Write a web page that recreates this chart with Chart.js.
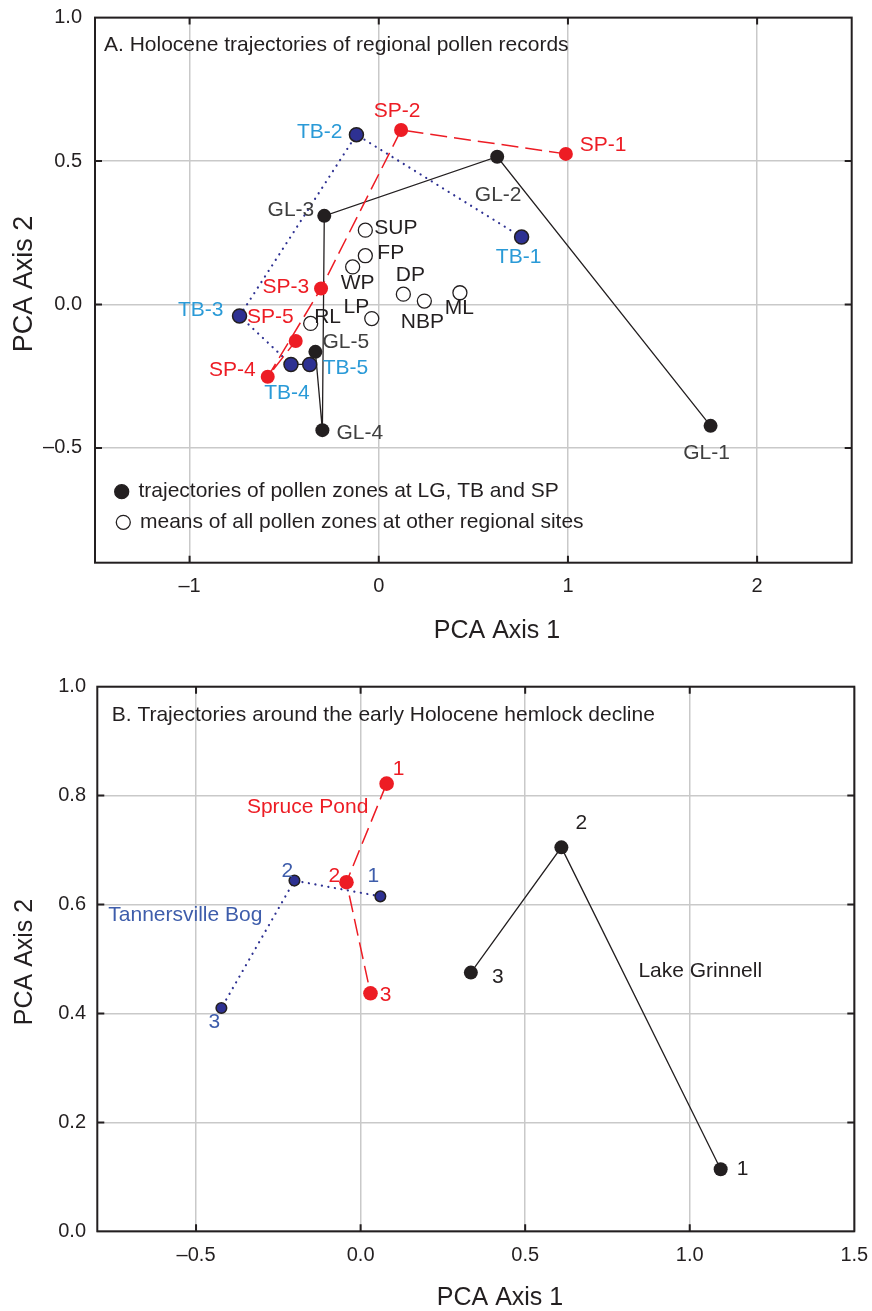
<!DOCTYPE html>
<html>
<head>
<meta charset="utf-8">
<script src="https://cdn.jsdelivr.net/npm/chart.js@4.4.1/dist/chart.umd.min.js"></script>
<style>
  html, body { margin: 0; padding: 0; background: #ffffff; }
  #wrap { position: relative; width: 872px; height: 1311px; }
  canvas { position: absolute; left: 0; }
  #chartA { top: 0; }
  #chartB { top: 655px; }
</style>
</head>
<body>
<div id="wrap">
  <canvas id="chartA" width="872" height="655"></canvas>
  <canvas id="chartB" width="872" height="656"></canvas>
</div>
<script>
// ---------- Panel A: Holocene trajectories of regional pollen records ----------
const glZones = ['GL-1', 'GL-2', 'GL-3', 'GL-4', 'GL-5'];
const glAxis1 = [1.754, 0.626, -0.288, -0.298, -0.335];
const glAxis2 = [-0.423, 0.515, 0.309, -0.438, -0.165];

const tbZones = ['TB-1', 'TB-2', 'TB-3', 'TB-4', 'TB-5'];
const tbAxis1 = [0.755, -0.118, -0.736, -0.464, -0.365];
const tbAxis2 = [0.235, 0.592, -0.040, -0.209, -0.209];

const spZones = ['SP-1', 'SP-2', 'SP-3', 'SP-4', 'SP-5'];
const spAxis1 = [0.989, 0.118, -0.305, -0.587, -0.439];
const spAxis2 = [0.525, 0.608, 0.056, -0.252, -0.127];

const siteNames = ['SUP', 'FP', 'WP', 'DP', 'NBP', 'ML', 'LP', 'RL'];
const siteAxis1 = [-0.071, -0.071, -0.138, 0.130, 0.241, 0.429, -0.037, -0.360];
const siteAxis2 = [0.259, 0.170, 0.131, 0.036, 0.012, 0.041, -0.049, -0.066];

const ticksAx = [-1, 0, 1, 2];
const ticksAy = [-0.5, 0, 0.5, 1.0];

// ---------- Panel B: around the early Holocene hemlock decline ----------
const declineZones = ['1', '2', '3'];
const spBAxis1 = [0.079, -0.043, 0.030];
const spBAxis2 = [0.822, 0.641, 0.437];
const tbBAxis1 = [0.060, -0.201, -0.423];
const tbBAxis2 = [0.615, 0.644, 0.410];
const glBAxis1 = [1.094, 0.610, 0.335];
const glBAxis2 = [0.114, 0.705, 0.475];

const ticksBx = [-0.5, 0, 0.5, 1.0, 1.5];
const ticksBy = [0, 0.2, 0.4, 0.6, 0.8, 1.0];

// ---------- styling ----------
const FAMILY = '"Liberation Sans", Arial, Helvetica, sans-serif';
const INK = '#231f20';
const RED = '#ed1c24';
const NAVY = '#2e3192';
const SKY = '#2a9ad7';
const SLATE = '#3e5dab';
const GREY_TEXT = '#3f3f3f';
const GRID = '#c9c9c9';

// label placement around markers: [dx, dy, align]
const placeGL = [[-4, 27, 'center'], [1, 38, 'center'], [-10, -6, 'right'], [14, 3, 'left'], [7, -10, 'left']];
const placeTB = [[-3, 20, 'center'], [-14, -2, 'right'], [-16, -6, 'right'], [-4, 29, 'center'], [13, 4, 'left']];
const placeSP = [[14, -9, 'left'], [-4, -19, 'center'], [-12, -1, 'right'], [-12, -7, 'right'], [-2, -24, 'right']];
const placeSites = [[9, -1.5, 'left'], [12, -2.5, 'left'], [5, 16, 'center'], [7, -18.5, 'center'],
                    [-2, 21, 'center'], [-0.5, 15, 'center'], [-2.5, -11.5, 'right'], [3.5, -6.5, 'left']];
const placeSPB = [[12, -14, 'center'], [-12, -6, 'center'], [15, 2, 'center']];
const placeTBB = [[-7, -20, 'center'], [-7, -9, 'center'], [-7, 14, 'center']];
const placeGLB = [[22, 0, 'center'], [20, -24, 'center'], [27, 5, 'center']];

const toPoints = (xs, ys) => xs.map((x, i) => ({ x: x, y: ys[i] }));
const fmtSigned = (v, d) => (v < 0 ? '\u2013' : '') + Math.abs(v).toFixed(d);

// text next to each marker
const pointTextPlugin = {
  id: 'pointText',
  afterDatasetsDraw(chart) {
    const ctx = chart.ctx;
    chart.data.datasets.forEach((ds, i) => {
      if (!ds.pointText) return;
      const meta = chart.getDatasetMeta(i);
      ctx.save();
      ctx.font = ds.pointTextFont || ('21px ' + FAMILY);
      ctx.fillStyle = ds.pointTextColor || INK;
      ctx.textBaseline = 'middle';
      meta.data.forEach((el, j) => {
        const p = ds.pointTextPlace[j];
        ctx.textAlign = p[2];
        ctx.fillText(ds.pointText[j], el.x + p[0], el.y + p[1]);
      });
      ctx.restore();
    });
  }
};

// plot frame with inward tick marks on all four sides
const framePlugin = {
  id: 'frame',
  afterDraw(chart) {
    const { ctx, chartArea: a, scales } = chart;
    const len = 7;
    ctx.save();
    ctx.strokeStyle = INK;
    ctx.lineWidth = 2;
    ctx.strokeRect(a.left, a.top, a.right - a.left, a.bottom - a.top);
    ctx.beginPath();
    scales.x.ticks.forEach(t => {
      const px = scales.x.getPixelForValue(t.value);
      if (px <= a.left + 1 || px >= a.right - 1) return;
      ctx.moveTo(px, a.bottom); ctx.lineTo(px, a.bottom - len);
      ctx.moveTo(px, a.top); ctx.lineTo(px, a.top + len);
    });
    scales.y.ticks.forEach(t => {
      const py = scales.y.getPixelForValue(t.value);
      if (py <= a.top + 1 || py >= a.bottom - 1) return;
      ctx.moveTo(a.left, py); ctx.lineTo(a.left + len, py);
      ctx.moveTo(a.right, py); ctx.lineTo(a.right - len, py);
    });
    ctx.stroke();
    ctx.restore();
  }
};

// panel titles, axis titles, legends and series names
const notesPlugin = {
  id: 'notes',
  afterDraw(chart, args, opts) {
    const ctx = chart.ctx;
    const { x: sx, y: sy } = chart.scales;
    (opts.items || []).forEach(it => {
      ctx.save();
      let px = it.x, py = it.y;
      if (it.data) { px = sx.getPixelForValue(it.x); py = sy.getPixelForValue(it.y); }
      if (it.marker) {
        ctx.beginPath();
        ctx.arc(px, py, it.r, 0, Math.PI * 2);
        ctx.fillStyle = it.fill;
        ctx.fill();
        ctx.lineWidth = 1.3;
        ctx.strokeStyle = INK;
        ctx.stroke();
        ctx.restore();
        return;
      }
      ctx.font = it.font;
      ctx.fillStyle = it.color || INK;
      ctx.textAlign = it.align || 'left';
      ctx.textBaseline = 'middle';
      ctx.translate(px, py);
      if (it.rotate) ctx.rotate(it.rotate);
      ctx.fillText(it.text, 0, 0);
      ctx.restore();
    });
  }
};

function axisOptions(min, max, tickValues, digits, pad, fixedSize, horizontal) {
  return {
    type: 'linear',
    min: min,
    max: max,
    afterBuildTicks(scale) { scale.ticks = tickValues.map(v => ({ value: v })); },
    afterFit(scale) {
      if (horizontal) { scale.height = fixedSize; scale.paddingLeft = 0; scale.paddingRight = 0; }
      else { scale.width = fixedSize; scale.paddingTop = 0; scale.paddingBottom = 0; }
    },
    grid: { color: GRID, lineWidth: 1.5, drawTicks: false },
    border: { display: false },
    ticks: {
      autoSkip: false,
      maxRotation: 0,
      padding: pad,
      color: INK,
      font: { family: FAMILY, size: 20 },
      callback: v => fmtSigned(v, digits)
    }
  };
}

Chart.defaults.animation = false;

// ---------- Panel A ----------
new Chart(document.getElementById('chartA'), {
  type: 'scatter',
  data: {
    datasets: [
      {
        label: 'Spruce Pond',
        data: toPoints(spAxis1, spAxis2),
        showLine: true,
        borderColor: RED,
        borderWidth: 1.5,
        borderDash: [17, 7],
        pointRadius: 7,
        pointBackgroundColor: RED,
        pointBorderColor: RED,
        pointBorderWidth: 0,
        pointText: spZones, pointTextPlace: placeSP, pointTextColor: RED
      },
      {
        label: 'Tannersville Bog',
        data: toPoints(tbAxis1, tbAxis2),
        showLine: true,
        borderColor: NAVY,
        borderWidth: 2.2,
        borderCapStyle: 'round',
        borderDash: [0.1, 6.5],
        segment: {
          borderColor: c => (c.p0DataIndex === 3 ? INK : undefined),
          borderDash: c => (c.p0DataIndex === 3 ? [] : undefined),
          borderWidth: c => (c.p0DataIndex === 3 ? 1.3 : undefined)
        },
        pointRadius: 7,
        pointBackgroundColor: NAVY,
        pointBorderColor: INK,
        pointBorderWidth: 1.5,
        pointText: tbZones, pointTextPlace: placeTB, pointTextColor: SKY
      },
      {
        label: 'Lake Grinnell',
        data: toPoints(glAxis1, glAxis2),
        showLine: true,
        borderColor: INK,
        borderWidth: 1.3,
        pointRadius: 7,
        pointBackgroundColor: INK,
        pointBorderColor: INK,
        pointBorderWidth: 0,
        pointText: glZones, pointTextPlace: placeGL, pointTextColor: GREY_TEXT
      },
      {
        label: 'Other regional sites',
        data: toPoints(siteAxis1, siteAxis2),
        showLine: false,
        pointRadius: 7,
        pointBackgroundColor: '#ffffff',
        pointBorderColor: INK,
        pointBorderWidth: 1.3,
        pointText: siteNames, pointTextPlace: placeSites, pointTextColor: INK
      }
    ]
  },
  options: {
    responsive: false,
    animation: false,
    layout: { padding: { top: 17.6, right: 20.3, left: 0, bottom: 0 } },
    scales: {
      x: axisOptions(-1.5, 2.5, ticksAx, 0, 11.5, 92.3, true),
      y: axisOptions(-0.9, 1.0, ticksAy, 1, 13, 95, false)
    },
    plugins: {
      legend: { display: false },
      tooltip: { enabled: false },
      notes: {
        items: [
          { text: 'A. Holocene trajectories of regional pollen records', x: 104, y: 45, font: '21px ' + FAMILY },
          { marker: true, x: 121.7, y: 491.7, r: 7, fill: INK },
          { text: 'trajectories of pollen zones at LG, TB and SP', x: 138.5, y: 491.7, font: '21px ' + FAMILY },
          { marker: true, x: 123.3, y: 522.3, r: 7, fill: '#ffffff' },
          { text: 'means of all pollen zones at other regional sites', x: 140, y: 522.3, font: '21px ' + FAMILY },
          { text: 'PCA Axis 1', x: 497, y: 631, font: '25px ' + FAMILY, align: 'center' },
          { text: 'PCA Axis 2', x: 25, y: 284, font: '27px ' + FAMILY, align: 'center', rotate: -Math.PI / 2 }
        ]
      }
    }
  },
  plugins: [pointTextPlugin, framePlugin, notesPlugin]
});

// ---------- Panel B ----------
new Chart(document.getElementById('chartB'), {
  type: 'scatter',
  data: {
    datasets: [
      {
        label: 'Spruce Pond',
        data: toPoints(spBAxis1, spBAxis2),
        showLine: true,
        borderColor: RED,
        borderWidth: 1.5,
        borderDash: [17, 7],
        pointRadius: 7.3,
        pointBackgroundColor: RED,
        pointBorderColor: RED,
        pointBorderWidth: 0,
        pointText: declineZones, pointTextPlace: placeSPB, pointTextColor: RED
      },
      {
        label: 'Tannersville Bog',
        data: toPoints(tbBAxis1, tbBAxis2),
        showLine: true,
        borderColor: NAVY,
        borderWidth: 2.2,
        borderCapStyle: 'round',
        borderDash: [0.1, 6.5],
        pointRadius: 5.3,
        pointBackgroundColor: NAVY,
        pointBorderColor: INK,
        pointBorderWidth: 1.5,
        pointText: declineZones, pointTextPlace: placeTBB, pointTextColor: SLATE
      },
      {
        label: 'Lake Grinnell',
        data: toPoints(glBAxis1, glBAxis2),
        showLine: true,
        borderColor: INK,
        borderWidth: 1.3,
        pointRadius: 7,
        pointBackgroundColor: INK,
        pointBorderColor: INK,
        pointBorderWidth: 0,
        pointText: declineZones, pointTextPlace: placeGLB, pointTextColor: INK
      }
    ]
  },
  options: {
    responsive: false,
    animation: false,
    layout: { padding: { top: 31.7, right: 17.7, left: 0, bottom: 0 } },
    scales: {
      x: axisOptions(-0.8, 1.5, ticksBx, 1, 11.7, 79.7, true),
      y: axisOptions(0, 1.0, ticksBy, 1, 11.3, 97.3, false)
    },
    plugins: {
      legend: { display: false },
      tooltip: { enabled: false },
      notes: {
        items: [
          { text: 'B. Trajectories around the early Holocene hemlock decline', x: 111.7, y: 60, font: '21px ' + FAMILY },
          { text: 'Spruce Pond', data: true, x: -0.161, y: 0.779, font: '21px ' + FAMILY, color: RED, align: 'center' },
          { text: 'Tannersville Bog', data: true, x: -0.5325, y: 0.581, font: '21px ' + FAMILY, color: SLATE, align: 'center' },
          { text: 'Lake Grinnell', data: true, x: 1.032, y: 0.4785, font: '21px ' + FAMILY, color: INK, align: 'center' },
          { text: 'PCA Axis 1', x: 500, y: 643, font: '25px ' + FAMILY, align: 'center' },
          { text: 'PCA Axis 2', x: 25, y: 307, font: '25px ' + FAMILY, align: 'center', rotate: -Math.PI / 2 }
        ]
      }
    }
  },
  plugins: [pointTextPlugin, framePlugin, notesPlugin]
});
</script>
</body>
</html>
